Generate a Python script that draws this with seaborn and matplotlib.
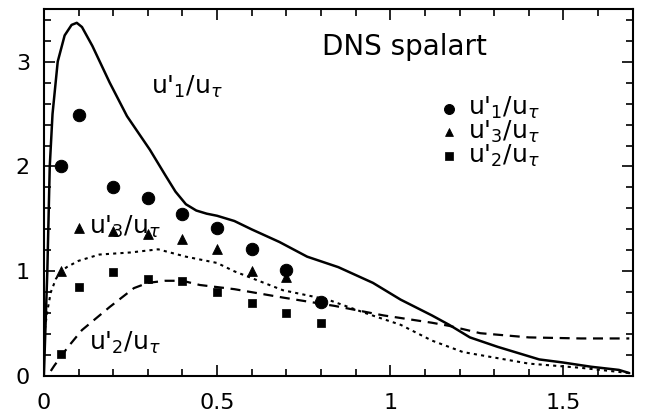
import numpy as np
import matplotlib
matplotlib.use('Agg')
import matplotlib.pyplot as plt
import seaborn as sns
from matplotlib.ticker import MultipleLocator

sns.set_style('ticks')
plt.rcParams['font.family'] = ['DejaVu Sans']
plt.rcParams['mathtext.fontset'] = 'dejavusans'
for k in ['text.color', 'axes.labelcolor', 'xtick.color', 'ytick.color', 'axes.edgecolor']:
    plt.rcParams[k] = 'k'

# DNS spalart curves
u1_x = [0.0, 0.005, 0.01, 0.017, 0.025, 0.04, 0.06, 0.08, 0.095, 0.11, 0.14, 0.19, 0.24, 0.306,
        0.35, 0.38, 0.41, 0.44, 0.47, 0.5, 0.55, 0.6, 0.68, 0.76, 0.85, 0.95, 1.03, 1.12, 1.17,
        1.23, 1.31, 1.43, 1.5, 1.58, 1.66, 1.69]
u1_y = [0.0, 0.5, 1.0, 2.0, 2.5, 3.0, 3.25, 3.35, 3.37, 3.33, 3.15, 2.8, 2.48, 2.16,
        1.92, 1.76, 1.64, 1.58, 1.55, 1.53, 1.48, 1.4, 1.28, 1.14, 1.04, 0.89, 0.73, 0.58, 0.49,
        0.37, 0.28, 0.16, 0.13, 0.09, 0.06, 0.03]

u3_x = [0.003, 0.01, 0.02, 0.035, 0.05, 0.066, 0.1, 0.16, 0.25, 0.33, 0.41, 0.5, 0.55,
        0.69, 0.82, 0.93, 1.03, 1.12, 1.21, 1.4, 1.55, 1.69]
u3_y = [0.45, 0.62, 0.8, 0.93, 1.0, 1.04, 1.1, 1.16, 1.18, 1.21, 1.14, 1.08, 1.0,
        0.82, 0.73, 0.6, 0.49, 0.34, 0.23, 0.12, 0.08, 0.03]

u2_x = [0.02, 0.03, 0.07, 0.11, 0.19, 0.26, 0.3, 0.35, 0.4, 0.45, 0.55, 0.69, 0.84, 0.98,
        1.12, 1.17, 1.26, 1.4, 1.55, 1.69]
u2_y = [0.05, 0.1, 0.28, 0.44, 0.66, 0.84, 0.89, 0.91, 0.91, 0.87, 0.83, 0.75, 0.67, 0.58,
        0.51, 0.48, 0.41, 0.37, 0.36, 0.36]

# measured points
p1_x = [0.05, 0.1, 0.2, 0.3, 0.4, 0.5, 0.6, 0.7, 0.8]
p1_y = [2.0, 2.49, 1.8, 1.7, 1.55, 1.41, 1.21, 1.01, 0.71]
p3_x = [0.05, 0.1, 0.2, 0.3, 0.4, 0.5, 0.6, 0.7]
p3_y = [1.0, 1.41, 1.38, 1.36, 1.31, 1.21, 1.0, 0.95]
p2_x = [0.05, 0.1, 0.2, 0.3, 0.4, 0.5, 0.6, 0.7, 0.8]
p2_y = [0.21, 0.85, 0.99, 0.93, 0.91, 0.8, 0.7, 0.6, 0.51]

lab1 = r"u'$_1$/u$_\tau$"
lab3 = r"u'$_3$/u$_\tau$"
lab2 = r"u'$_2$/u$_\tau$"

fig = plt.figure(figsize=(6.45, 4.18), dpi=100)
ax = fig.add_axes([0.068, 0.100, 0.913, 0.878])

sns.lineplot(x=u1_x, y=u1_y, ax=ax, color='k', lw=1.8, sort=False)
sns.lineplot(x=u3_x, y=u3_y, ax=ax, color='k', lw=1.5, sort=False)
ax.lines[-1].set_linestyle((0, (1.5, 2.0)))
sns.lineplot(x=u2_x, y=u2_y, ax=ax, color='k', lw=1.6, sort=False)
ax.lines[-1].set_linestyle((0, (4.5, 3)))

sns.scatterplot(x=p1_x, y=p1_y, ax=ax, color='k', marker='o', s=80, edgecolor='k', label=lab1)
sns.scatterplot(x=p3_x, y=p3_y, ax=ax, color='k', marker='^', s=50, edgecolor='k', label=lab3)
sns.scatterplot(x=p2_x, y=p2_y, ax=ax, color='k', marker='s', s=40, edgecolor='k', label=lab2)

ax.legend(loc='upper left', bbox_to_anchor=(0.645, 0.80), frameon=False, fontsize=18,
          handlelength=1.0, handletextpad=0.26, labelspacing=-0.1, borderpad=0, markerscale=0.8)

ax.text(1.04, 3.14, 'DNS spalart', fontsize=20, ha='center', va='center')
ax.text(0.31, 2.76, lab1, fontsize=18, ha='left', va='center')
ax.text(0.13, 1.42, lab3, fontsize=18, ha='left', va='center')
ax.text(0.13, 0.32, lab2, fontsize=18, ha='left', va='center')

ax.set_xlim(0, 1.7)
ax.set_ylim(0, 3.5)
ax.xaxis.set_minor_locator(MultipleLocator(0.1))
ax.yaxis.set_minor_locator(MultipleLocator(0.2))
ax.set_xticks([0, 0.5, 1, 1.5], ['0', '0.5', '1', '1.5'])
ax.set_yticks([0, 1, 2, 3], ['0', '1', '2', '3'])
ax.tick_params(which='both', direction='in', top=True, right=True, labelsize=16, width=1.2)
ax.tick_params(which='major', length=8)
ax.tick_params(axis='x', which='major', pad=12)
ax.tick_params(axis='y', which='major', pad=10)
ax.tick_params(which='minor', length=5)
for sp in ax.spines.values():
    sp.set_visible(True)
    sp.set_linewidth(1.5)

fig.savefig('out.png', dpi=100)
